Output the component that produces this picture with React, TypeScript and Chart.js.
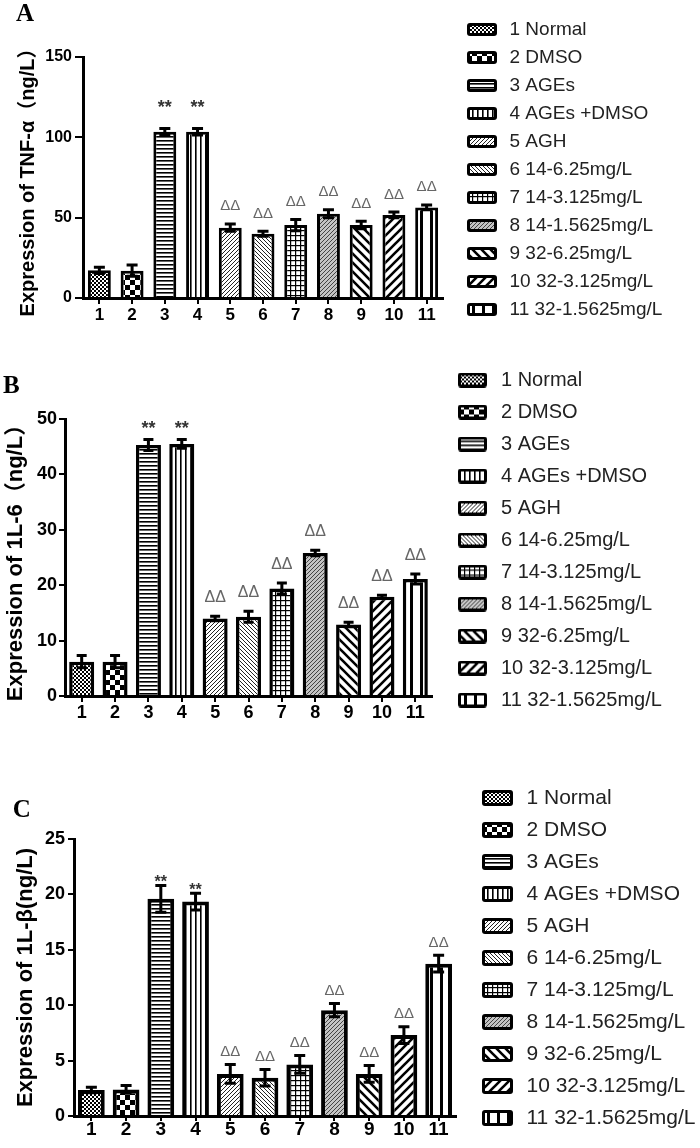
import React, { useEffect, useRef } from "react";
import { Chart, registerables } from "chart.js";

Chart.register(...registerables);

// ---------- data ----------
const xTickLabels = ["1", "2", "3", "4", "5", "6", "7", "8", "9", "10", "11"];
const groupLabels = [
  "1 Normal",
  "2 DMSO",
  "3 AGEs",
  "4 AGEs +DMSO",
  "5 AGH",
  "6 14-6.25mg/L",
  "7 14-3.125mg/L",
  "8 14-1.5625mg/L",
  "9 32-6.25mg/L",
  "10 32-3.125mg/L",
  "11 32-1.5625mg/L",
];
const sigMarks = ["", "", "**", "**", "ΔΔ", "ΔΔ", "ΔΔ", "ΔΔ", "ΔΔ", "ΔΔ", "ΔΔ"];

const tnfValues = [17.2, 17.0, 103.5, 103.5, 43.8, 40.0, 45.4, 52.5, 45.4, 51.7, 56.4];
const tnfErrors = [2.0, 3.5, 2.0, 2.0, 2.3, 1.5, 3.5, 2.5, 2.3, 1.8, 1.5];
const tnfMax = 150;
const tnfStep = 50;

const il6Values = [6.2, 6.2, 45.3, 45.5, 14.0, 14.3, 19.4, 25.8, 12.9, 17.9, 21.1];
const il6Errors = [1.1, 1.1, 1.0, 0.8, 0.4, 1.0, 1.0, 0.5, 0.4, 0.3, 0.9];
const il6Max = 50;
const il6Step = 10;

const il1bValues = [2.35, 2.4, 19.6, 19.35, 3.8, 3.45, 4.65, 9.55, 3.8, 7.3, 13.75];
const il1bErrors = [0.25, 0.35, 1.2, 0.75, 0.85, 0.75, 0.8, 0.6, 0.75, 0.75, 0.75];
const il1bMax = 25;
const il1bStep = 5;

// ---------- styling ----------
const SANS = "'Liberation Sans', Arial, 'Noto Sans CJK SC', sans-serif";
const SERIF = "'Liberation Serif', 'Times New Roman', serif";
const W = 720;

type PanelCfg = {
  letter: string;
  yTitle: string;
  values: number[];
  errors: number[];
  yMax: number;
  yStep: number;
  top: number;
  height: number;
  left: number;
  right: number;
  bottom: number;
  padTop: number;
  padLeft: number;
  titlePadTop: number;
  titlePadBottom: number;
  legendFont: number;
  legendPad: number;
  boxW: number;
  swOff: number;
  swW: number;
  swH: number;
  yTitleFont: number;
  yTickFont: number;
  yTickLen: number;
  yTickPad: number;
  xTickFont: number;
  xTickLen: number;
  xTickPad: number;
  barPct: number;
  barBorder: number;
  errLW: number;
  capW: number;
  starFont: number;
  starGap: number;
  deltaFont: number;
  deltaGap: number;
};

const panels: PanelCfg[] = [
  {
    letter: "A", yTitle: "Expression of TNF-α（ng/L）", values: tnfValues, errors: tnfErrors,
    yMax: tnfMax, yStep: tnfStep,
    top: 0, height: 345, left: 83, right: 443, bottom: 298,
    padTop: 11, padLeft: 16, titlePadTop: -11, titlePadBottom: 27,
    legendFont: 19, legendPad: 9, boxW: 48, swOff: 15, swW: 30, swH: 13,
    yTitleFont: 20, yTickFont: 16, yTickLen: 8, yTickPad: 3,
    xTickFont: 17, xTickLen: 6, xTickPad: 3,
    barPct: 0.7, barBorder: 3, errLW: 3, capW: 11,
    starFont: 18, starGap: 15, deltaFont: 15, deltaGap: 13.5,
  },
  {
    letter: "B", yTitle: "Expression of 1L-6（ng/L）", values: il6Values, errors: il6Errors,
    yMax: il6Max, yStep: il6Step,
    top: 345, height: 395, left: 65, right: 432, bottom: 351,
    padTop: 13, padLeft: 3, titlePadTop: 13.5, titlePadBottom: 17.5,
    legendFont: 20, legendPad: 12, boxW: 47, swOff: 14, swW: 29, swH: 15,
    yTitleFont: 22, yTickFont: 18, yTickLen: 6, yTickPad: 2,
    xTickFont: 18, xTickLen: 6, xTickPad: 2,
    barPct: 0.75, barBorder: 3.5, errLW: 3, capW: 10,
    starFont: 18, starGap: 5, deltaFont: 16, deltaGap: 14,
  },
  {
    letter: "C", yTitle: "Expression of 1L-β(ng/L)", values: il1bValues, errors: il1bErrors,
    yMax: il1bMax, yStep: il1bStep,
    top: 740, height: 408, left: 74, right: 456, bottom: 376,
    padTop: 36.5, padLeft: 12.8, titlePadTop: 19, titlePadBottom: 13.5,
    legendFont: 21, legendPad: 11, boxW: 49, swOff: 15, swW: 31, swH: 16,
    yTitleFont: 22, yTickFont: 18, yTickLen: 6, yTickPad: 3,
    xTickFont: 19, xTickLen: 5, xTickPad: -1,
    barPct: 0.77, barBorder: 4, errLW: 3, capW: 11,
    starFont: 16, starGap: -1.5, deltaFont: 15, deltaGap: 8.5,
  },
];

// ---------- patterns ----------
const tileSizes = [[4, 4], [10, 10], [4, 4], [5, 4], [4, 4], [4, 4], [5, 5], [4, 4], [9, 9], [9, 9], [10, 4]];

function makeTile(kind: number): HTMLCanvasElement {
  const c = document.createElement("canvas");
  const [w, h] = tileSizes[kind];
  c.width = w;
  c.height = h;
  const g = c.getContext("2d")!;
  g.fillStyle = "#fff";
  g.fillRect(0, 0, w, h);
  g.fillStyle = "#000";
  const diag = (dir: number, lw: number, color: string) => {
    g.strokeStyle = color;
    g.lineWidth = lw;
    g.beginPath();
    for (let k = -1; k <= 1; k++) {
      if (dir > 0) {
        g.moveTo(k * w - 1, h + 1);
        g.lineTo(k * w + w + 1, -1);
      } else {
        g.moveTo(k * w - 1, -1);
        g.lineTo(k * w + w + 1, h + 1);
      }
    }
    g.stroke();
  };
  switch (kind) {
    case 0:
      g.fillRect(0, 0, 2, 2);
      g.fillRect(2, 2, 2, 2);
      break;
    case 1:
      g.fillRect(0, 0, 5, 5);
      g.fillRect(5, 5, 5, 5);
      break;
    case 2:
      g.fillRect(0, 0, w, 1.6);
      break;
    case 3:
      g.fillRect(0, 0, 1.6, h);
      break;
    case 4:
      diag(1, 1, "#222");
      break;
    case 5:
      diag(-1, 1, "#222");
      break;
    case 6:
      g.fillRect(0, 0, w, 1.2);
      g.fillRect(0, 0, 1.2, h);
      break;
    case 7:
      g.fillStyle = "#c4c4c4";
      g.fillRect(0, 0, w, h);
      diag(1, 1, "#444");
      break;
    case 8:
      diag(-1, 2.6, "#000");
      break;
    case 9:
      diag(1, 2.6, "#000");
      break;
    case 10:
      g.fillRect(0, 0, 3, h);
      break;
  }
  return c;
}

function makeSwatch(tile: HTMLCanvasElement, cfg: PanelCfg): HTMLCanvasElement {
  const c = document.createElement("canvas");
  c.width = cfg.boxW;
  c.height = cfg.swH;
  const g = c.getContext("2d")!;
  const b = 3;
  g.fillStyle = "#000";
  g.beginPath();
  (g as any).roundRect(cfg.swOff, 0, cfg.swW, cfg.swH, 3);
  g.fill();
  g.fillStyle = g.createPattern(tile, "repeat")!;
  g.fillRect(cfg.swOff + b, b, cfg.swW - 2 * b, cfg.swH - 2 * b);
  return c;
}

function Panel({ cfg }: { cfg: PanelCfg }) {
  const ref = useRef<HTMLCanvasElement>(null);
  useEffect(() => {
    const canvas = ref.current!;
    const ctx = canvas.getContext("2d")!;
    const tiles = groupLabels.map((_, i) => makeTile(i));
    const patterns = tiles.map((t) => ctx.createPattern(t, "repeat")!);
    const swatches = tiles.map((t) => makeSwatch(t, cfg));

    ctx.font = `${cfg.legendFont}px ${SANS}`;
    const tw = Math.max(...groupLabels.map((l) => ctx.measureText(l).width));
    const legendWidth = cfg.legendPad + cfg.boxW + cfg.legendFont / 2 + tw + 10;
    const padRight = W - (cfg.right + legendWidth);

    const errorPlugin = {
      id: "errorBarsAndMarks",
      afterDatasetsDraw(chart: any) {
        const meta = chart.getDatasetMeta(0);
        const ys = chart.scales.y;
        const g = chart.ctx as CanvasRenderingContext2D;
        g.save();
        g.strokeStyle = "#000";
        g.lineWidth = cfg.errLW;
        meta.data.forEach((el: any, i: number) => {
          const v = cfg.values[i];
          const e = cfg.errors[i];
          const x = el.x;
          const top = ys.getPixelForValue(v + e);
          const bot = ys.getPixelForValue(v - e);
          const h = cfg.capW / 2;
          g.beginPath();
          g.moveTo(x, top);
          g.lineTo(x, bot);
          g.moveTo(x - h, top);
          g.lineTo(x + h, top);
          g.moveTo(x - h, bot);
          g.lineTo(x + h, bot);
          g.stroke();
          const m = sigMarks[i];
          if (m) {
            const star = m === "**";
            g.font = star ? `bold ${cfg.starFont}px ${SANS}` : `${cfg.deltaFont}px ${SANS}`;
            g.fillStyle = star ? "#333" : "#666";
            g.textAlign = "center";
            g.textBaseline = "alphabetic";
            g.fillText(m, x, top - (star ? cfg.starGap : cfg.deltaGap));
          }
        });
        g.restore();
      },
    };

    const chart = new Chart(canvas, {
      type: "bar",
      data: {
        labels: xTickLabels,
        datasets: [
          {
            data: cfg.values,
            backgroundColor: patterns as any,
            borderColor: "#000",
            borderWidth: cfg.barBorder,
            borderSkipped: "start",
            barPercentage: cfg.barPct,
            categoryPercentage: 1,
          },
        ],
      },
      options: {
        responsive: false,
        animation: false,
        devicePixelRatio: 1,
        layout: { padding: { left: cfg.padLeft, right: padRight, top: cfg.padTop, bottom: 0 } },
        plugins: {
          tooltip: { enabled: false },
          title: {
            display: true,
            text: cfg.letter,
            align: "start",
            color: "#000",
            font: { family: SERIF, size: 25, weight: "bold", lineHeight: 1.2 },
            padding: { top: cfg.titlePadTop, bottom: cfg.titlePadBottom },
          },
          legend: {
            display: true,
            position: "right",
            align: "start",
            maxWidth: 400,
            onClick: () => {},
            labels: {
              usePointStyle: true,
              pointStyleWidth: cfg.boxW,
              padding: cfg.legendPad,
              color: "#222",
              font: { family: SANS, size: cfg.legendFont, lineHeight: 1 },
              generateLabels: () =>
                groupLabels.map((text, i) => ({
                  text,
                  pointStyle: swatches[i],
                  fillStyle: "#fff",
                  strokeStyle: "#000",
                  lineWidth: 0,
                  hidden: false,
                  index: i,
                  datasetIndex: 0,
                  fontColor: "#222",
                })) as any,
            },
          },
        },
        scales: {
          x: {
            type: "category",
            offset: true,
            grid: {
              display: true,
              drawOnChartArea: false,
              drawTicks: true,
              tickLength: cfg.xTickLen,
              offset: false,
              color: "#000",
              lineWidth: 2,
            },
            border: { display: true, color: "#000", width: 3 },
            ticks: {
              color: "#000",
              padding: cfg.xTickPad,
              autoSkip: false,
              maxRotation: 0,
              font: { family: SANS, size: cfg.xTickFont, weight: "bold", lineHeight: 1 },
            },
            afterFit: (s: any) => {
              s.height = cfg.height - cfg.bottom;
            },
          },
          y: {
            min: 0,
            max: cfg.yMax,
            ticks: {
              stepSize: cfg.yStep,
              color: "#000",
              padding: cfg.yTickPad,
              font: { family: SANS, size: cfg.yTickFont, weight: "bold", lineHeight: 1 },
            },
            grid: {
              drawOnChartArea: false,
              drawTicks: true,
              tickLength: cfg.yTickLen,
              color: "#000",
              lineWidth: 2,
            },
            border: { display: true, color: "#000", width: 3 },
            title: {
              display: true,
              text: cfg.yTitle,
              color: "#000",
              font: { family: SANS, size: cfg.yTitleFont, weight: "bold", lineHeight: 1.2 },
              padding: 0,
            },
            afterFit: (s: any) => {
              s.width = cfg.left - cfg.padLeft;
            },
          },
        },
      } as any,
      plugins: [errorPlugin],
    });
    return () => chart.destroy();
  }, [cfg]);
  return (
    <canvas
      ref={ref}
      width={W}
      height={cfg.height}
      style={{ position: "absolute", left: 0, top: cfg.top, width: W, height: cfg.height }}
    />
  );
}

export default function App() {
  return (
    <div
      style={{
        position: "absolute",
        left: 0,
        top: 0,
        width: 700,
        height: 1148,
        overflow: "hidden",
        background: "#fff",
      }}
    >
      {panels.map((p) => (
        <Panel key={p.letter} cfg={p} />
      ))}
    </div>
  );
}
